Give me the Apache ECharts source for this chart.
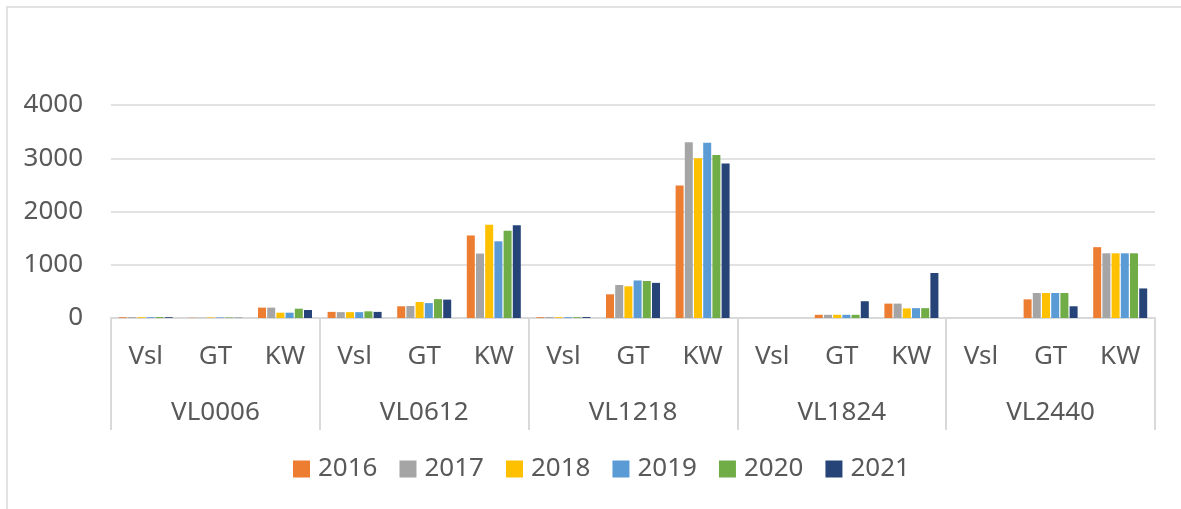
<!DOCTYPE html>
<html>
<head>
<meta charset="utf-8">
<title>chart</title>
<script src="https://cdn.jsdelivr.net/npm/echarts@6/dist/echarts.min.js"></script>
<style>
html,body{margin:0;padding:0;background:#fff;}
#box{width:1181px;height:509px;}
</style>
</head>
<body>
<div id="box"></div>
<script>
// sub categories (first level) and groups (second level)
var groups = ['VL0006', 'VL0612', 'VL1218', 'VL1824', 'VL2440'];
var subs = ['Vsl', 'GT', 'KW'];
var years = ['2016', '2017', '2018', '2019', '2020', '2021'];
var yTicks = [0, 1000, 2000, 3000, 4000];

// values per year, order: VL0006 Vsl/GT/KW, VL0612 ..., VL2440
var v2016 = [15, 5, 195, 115, 220, 1550, 15, 445, 2490, 0, 60, 270, 0, 350, 1330];
var v2017 = [15, 5, 195, 110, 225, 1210, 18, 620, 3300, 0, 60, 270, 0, 470, 1215];
var v2018 = [15, 10, 100, 110, 300, 1750, 15, 595, 3000, 0, 60, 180, 0, 470, 1215];
var v2019 = [15, 10, 100, 110, 280, 1440, 15, 705, 3290, 0, 60, 185, 0, 470, 1215];
var v2020 = [18, 10, 175, 125, 355, 1640, 15, 695, 3060, 0, 60, 185, 0, 470, 1215];
var v2021 = [15, 5, 150, 115, 345, 1740, 18, 660, 2900, 0, 315, 845, 0, 220, 555];

var colors = ['#ED7D31', '#A5A5A5', '#FFC000', '#5B9BD5', '#70AD47', '#264478'];
var values = [v2016, v2017, v2018, v2019, v2020, v2021];

var cats = [];
for (var g = 0; g < groups.length; g++) {
	for (var s = 0; s < subs.length; s++) {
		cats.push(subs[s]);
	}
}

var font = 'Noto Sans';
var txt = '#595959';
var line = '#D9D9D9';

var series = [];
for (var i = 0; i < years.length; i++) {
	series.push({
		name: years[i],
		type: 'bar',
		xAxisIndex: 0,
		barWidth: 8,
		barGap: '15%',
		itemStyle: {color: colors[i]},
		data: values[i]
	});
}

var myChart = echarts.init(document.getElementById('box'));
var option = {
	color: colors,
	animation: false,
	textStyle: {fontFamily: font},
	graphic: [{
		type: 'rect',
		shape: {x: 7, y: 7, width: 1300, height: 700},
		style: {fill: 'none', stroke: line, lineWidth: 1.5},
		silent: true
	}],
	grid: {left: 111, right: 26, top: 105, bottom: 191},
	legend: {
		data: years,
		top: 451,
		left: 288,
		itemWidth: 17,
		itemHeight: 17,
		itemGap: 22,
		icon: 'rect',
		textStyle: {fontSize: 26, color: txt, fontFamily: font, padding: [0, 0, 0, 3]}
	},
	xAxis: [{
		type: 'category',
		data: cats,
		position: 'bottom',
		axisLine: {show: true, lineStyle: {color: line, width: 2}},
		axisTick: {show: false},
		axisLabel: {interval: 0, margin: 26, fontSize: 26, color: txt, fontFamily: font}
	}, {
		type: 'category',
		data: groups,
		position: 'bottom',
		axisLine: {show: false},
		axisTick: {show: true, interval: 0, length: 112, lineStyle: {color: line, width: 2}},
		axisLabel: {interval: 0, margin: 82, fontSize: 26, color: txt, fontFamily: font}
	}],
	yAxis: {
		type: 'value',
		min: yTicks[0],
		max: yTicks[yTicks.length - 1],
		interval: 1000,
		axisLine: {show: false},
		axisTick: {show: false},
		splitLine: {lineStyle: {color: line, width: 1.5}},
		axisLabel: {
			margin: 28, fontSize: 26, color: txt, fontFamily: font,
			formatter: function (v) { return String(v); }
		}
	},
	series: series
};
if (option && typeof option === 'object') {
	myChart.setOption(option, true);
}
</script>
</body>
</html>
